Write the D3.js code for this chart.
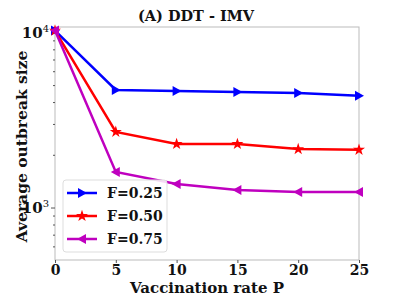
<!DOCTYPE html>
<html>
<head>
<meta charset="utf-8">
<script src="https://cdn.jsdelivr.net/npm/d3@7"></script>
<style>
  body { margin: 0; background: #fff; }
  text { font-family: "DejaVu Serif", serif; font-weight: bold; }
</style>
</head>
<body>
<div id="chart-area"></div>
<script>
const rates = [0, 5, 10, 15, 20, 25];
const f25 = [10300, 4720, 4650, 4590, 4530, 4370];
const f50 = [10300, 2720, 2320, 2320, 2170, 2150];
const f75 = [10300, 1606, 1371, 1267, 1234, 1234];
const seriesNames = ["F=0.25", "F=0.50", "F=0.75"];
const xTicks = [0, 5, 10, 15, 20, 25];

const series = [
  { name: seriesNames[0], values: f25, color: "#0000ff", marker: "right" },
  { name: seriesNames[1], values: f50, color: "#ff0000", marker: "star" },
  { name: seriesNames[2], values: f75, color: "#bf00bf", marker: "left" }
];

const W = 399, H = 300;
const m = { left: 55, right: 40, top: 27, bottom: 40 };

const svg = d3.select("#chart-area").append("svg")
  .attr("width", W)
  .attr("height", H);

const x = d3.scaleLinear().domain([0, 25]).range([m.left, W - m.right]);
const y = d3.scaleLog().domain([505, 10800]).range([H - m.bottom, m.top]);

// frame
svg.append("rect")
  .attr("x", m.left).attr("y", m.top)
  .attr("width", W - m.left - m.right)
  .attr("height", H - m.top - m.bottom)
  .attr("fill", "none")
  .attr("stroke", "#bbbbbb")
  .attr("stroke-width", 1);

// x axis
const xAxis = svg.append("g")
  .attr("transform", `translate(0,${H - m.bottom})`)
  .call(d3.axisBottom(x).tickValues(xTicks).tickSize(3).tickPadding(2));
xAxis.select(".domain").remove();
xAxis.selectAll("line").attr("stroke", "#555");
xAxis.selectAll("text").attr("font-size", 14).attr("fill", "#111");

// y axis
const minor = [];
for (let d = 100; d <= 10000; d *= 10) {
  for (let k = 2; k <= 9; k++) {
    const v = d * k;
    if (v >= 505 && v <= 10800) minor.push(v);
  }
}
const yAxis = svg.append("g").attr("transform", `translate(${m.left},0)`);
yAxis.selectAll(".minor").data(minor).enter().append("line")
  .attr("x1", 0).attr("x2", -2)
  .attr("y1", d => y(d)).attr("y2", d => y(d))
  .attr("stroke", "#555");
const major = [1000, 10000];
yAxis.selectAll(".major").data(major).enter().append("line")
  .attr("x1", 0).attr("x2", -4)
  .attr("y1", d => y(d)).attr("y2", d => y(d))
  .attr("stroke", "#555");
const majorLab = yAxis.selectAll(".mlab").data(major).enter().append("text")
  .attr("x", -6)
  .attr("y", d => y(d) + 5)
  .attr("text-anchor", "end")
  .attr("font-size", 15)
  .attr("fill", "#111");
majorLab.append("tspan").text("10");
majorLab.append("tspan")
  .attr("dy", -6)
  .attr("font-size", 10)
  .attr("font-weight", "normal")
  .text(d => Math.round(Math.log10(d)));

// lines
const line = d3.line()
  .x((d, i) => x(rates[i]))
  .y(d => y(d));

const starPath = d3.symbol().type(d3.symbolStar).size(45)();
const triPath = "M5,0L-4,-5L-4,5Z";

function drawMarker(g, type) {
  if (type === "star") return g.append("path").attr("d", starPath);
  const p = g.append("path").attr("d", triPath);
  if (type === "left") p.attr("transform", "rotate(180)");
  return p;
}

series.forEach(s => {
  svg.append("path")
    .datum(s.values)
    .attr("d", line)
    .attr("fill", "none")
    .attr("stroke", s.color)
    .attr("stroke-width", 2.5);
  svg.selectAll(null).data(s.values).enter().append("g")
    .attr("transform", (d, i) => `translate(${x(rates[i])},${y(d)})`)
    .each(function () {
      drawMarker(d3.select(this), s.marker).attr("fill", s.color);
    });
});

// legend
const lg = svg.append("g").attr("transform", "translate(63,180)");
lg.append("rect")
  .attr("width", 104).attr("height", 72)
  .attr("rx", 3)
  .attr("fill", "#fff").attr("fill-opacity", 0.85)
  .attr("stroke", "#dddddd");
series.forEach((s, i) => {
  const row = lg.append("g").attr("transform", `translate(0,${13 + i * 23})`);
  row.append("line")
    .attr("x1", 4).attr("x2", 34)
    .attr("stroke", s.color).attr("stroke-width", 2.5);
  drawMarker(row.append("g").attr("transform", "translate(19,0)"), s.marker)
    .attr("fill", s.color);
  row.append("text")
    .attr("x", 44).attr("y", 5)
    .attr("font-size", 14)
    .attr("fill", "#111")
    .text(s.name);
});

// title & labels
svg.append("text")
  .attr("x", 196)
  .attr("y", 21)
  .attr("text-anchor", "middle")
  .attr("font-size", 14.5)
  .attr("fill", "#111")
  .text("(A) DDT - IMV");

svg.append("text")
  .attr("x", (m.left + W - m.right) / 2)
  .attr("y", 293)
  .attr("text-anchor", "middle")
  .attr("font-size", 15)
  .attr("fill", "#111")
  .text("Vaccination rate P");

svg.append("text")
  .attr("transform", `translate(27,${(m.top + H - m.bottom) / 2 + 3}) rotate(-90)`)
  .attr("text-anchor", "middle")
  .attr("font-size", 15.5)
  .attr("fill", "#111")
  .text("Average outbreak size");
</script>
</body>
</html>
